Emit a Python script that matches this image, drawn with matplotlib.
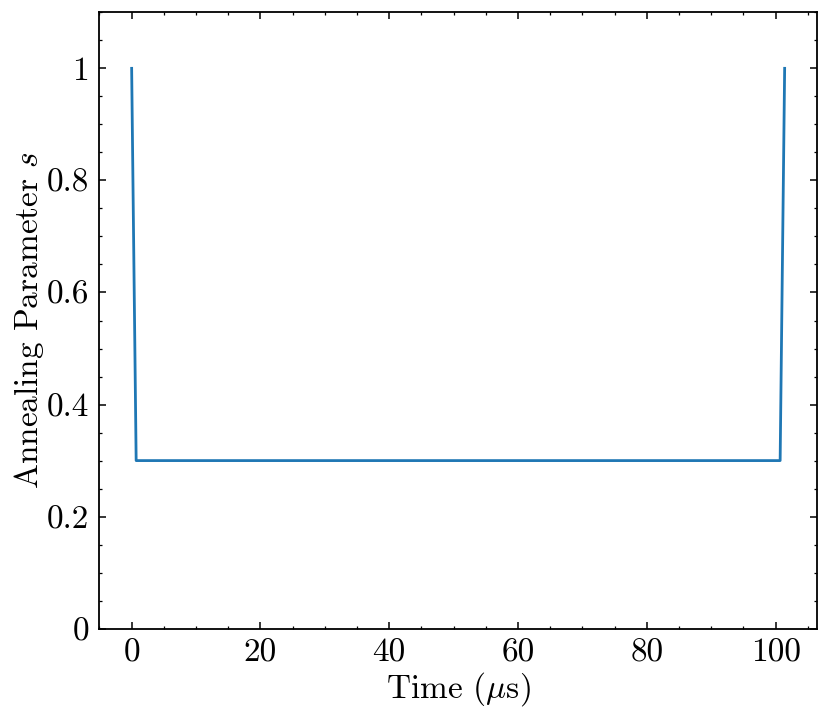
import matplotlib
matplotlib.use("Agg")
import matplotlib.pyplot as plt
from matplotlib.ticker import MultipleLocator, FuncFormatter

plt.rcParams['font.family'] = 'serif'
plt.rcParams['font.serif'] = ['cmr10']
plt.rcParams['mathtext.fontset'] = 'cm'
plt.rcParams['axes.formatter.use_mathtext'] = True

# Data: reverse annealing schedule
time_us = [0.0, 0.7, 100.7, 101.4]
s_values = [1.0, 0.3, 0.3, 1.0]

fig = plt.figure(figsize=(8.31, 7.22), dpi=100)
ax = fig.add_axes([99/831, 1-628.7/722, (817.3-99)/831, (628.7-12.3)/722])

ax.plot(time_us, s_values, color='#1f77b4', linewidth=2.0)

ax.set_ylim(0, 1.1)
ax.xaxis.set_major_locator(MultipleLocator(20))
ax.xaxis.set_minor_locator(MultipleLocator(5))
ax.yaxis.set_major_locator(MultipleLocator(0.2))
ax.yaxis.set_minor_locator(MultipleLocator(0.05))
fmt = FuncFormatter(lambda v, p: '%g' % round(v, 6))
ax.xaxis.set_major_formatter(fmt)
ax.yaxis.set_major_formatter(fmt)

ax.tick_params(which='both', direction='in', top=True, right=True, labelsize=24)
ax.tick_params(which='major', length=5, width=1.1, pad=7)
ax.tick_params(which='minor', length=2.5, width=0.9)
for sp in ax.spines.values():
    sp.set_linewidth(1.3)

ax.set_xlabel(r'Time ($\mu$s)', fontsize=24, labelpad=2)
ax.set_ylabel(r'Annealing Parameter $s$', fontsize=24, labelpad=1)

fig.savefig('out.png', dpi=100)
